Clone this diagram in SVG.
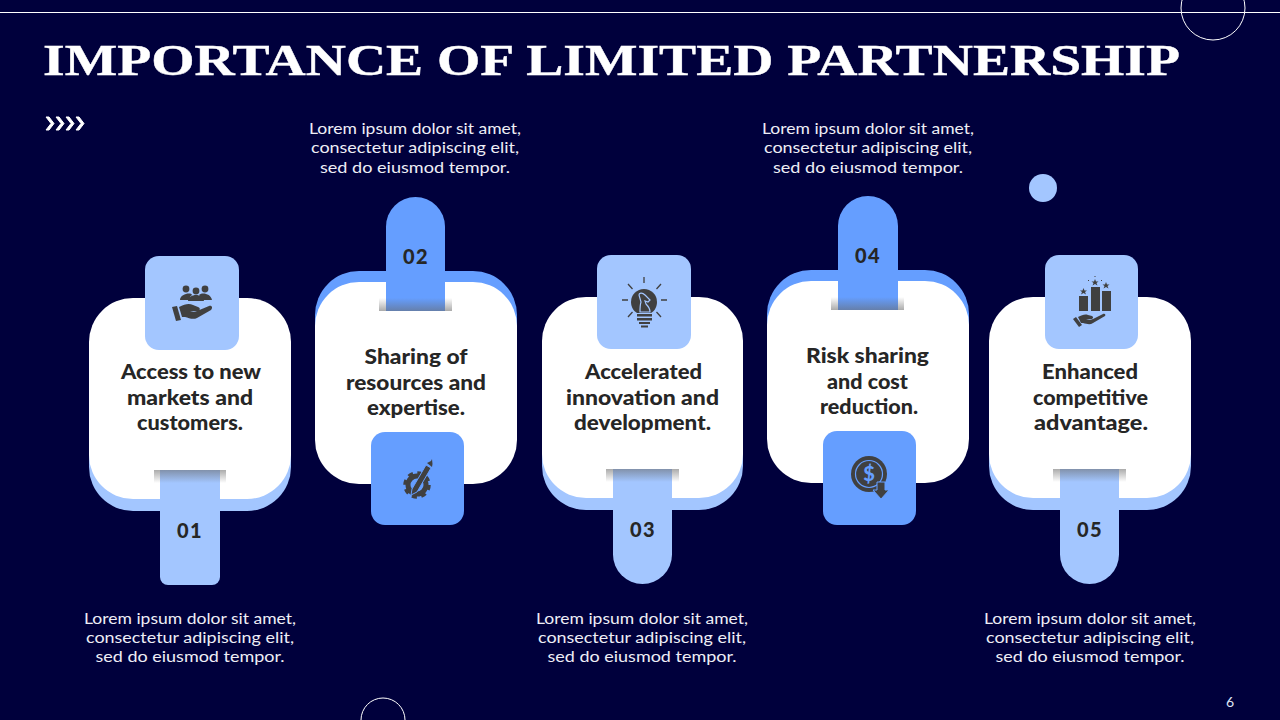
<svg xmlns="http://www.w3.org/2000/svg" width="1280" height="720" viewBox="0 0 1280 720">
<style>
.title{font-family:"Liberation Serif",serif;font-weight:700;font-size:45px;fill:#fff;stroke:#fff;stroke-width:.4}
.body{font-family:"Lato","Liberation Sans",sans-serif;font-weight:400;font-size:16px;fill:#eeeef6;text-anchor:middle}
.head{font-family:"Lato","Liberation Sans",sans-serif;font-weight:900;font-size:20px;fill:#262626;text-anchor:middle}
.num{font-family:"Lato","Liberation Sans",sans-serif;font-weight:900;font-size:20px;fill:#262626;text-anchor:middle;letter-spacing:1.500px}
.ic{fill:#404040}
.lt{fill:#a3c6ff}.bl{fill:#659eff}.wh{fill:#fff}
.ring{fill:none;stroke:#fff;stroke-width:1}
</style>
<defs>
<linearGradient id="sd" x1="0" y1="0" x2="0" y2="1"><stop offset="0" stop-color="#666" stop-opacity=".55"/><stop offset="1" stop-color="#666" stop-opacity="0"/></linearGradient>
<linearGradient id="su" x1="0" y1="1" x2="0" y2="0"><stop offset="0" stop-color="#666" stop-opacity=".55"/><stop offset="1" stop-color="#666" stop-opacity="0"/></linearGradient>
</defs>
<rect width="1280" height="720" fill="#00003c"/>
<g id="decor">
<rect x="0" y="12" width="1280" height="1" fill="#fff"/>
<circle class="ring" cx="1213" cy="8" r="32"/>
<circle class="ring" cx="383" cy="720" r="22"/>
<circle class="lt" cx="1043" cy="188" r="14"/>
<path d="M46 117l5 6.500-5 6.500h3l5-6.500-5-6.500zM56 117l5 6.500-5 6.500h3l5-6.500-5-6.500zM66 117l5 6.500-5 6.500h3l5-6.500-5-6.500zM76 117l5 6.500-5 6.500h3l5-6.500-5-6.500z" fill="#fff" stroke="#fff" stroke-width="1"/>
</g>
<text id="title" class="title" x="43" y="75" textLength="1137" lengthAdjust="spacingAndGlyphs">IMPORTANCE OF LIMITED PARTNERSHIP</text>
<text id="page" x="1230" y="707" font-family="Lato,sans-serif" font-size="14" fill="#dfe6f5" text-anchor="middle">6</text>

<g id="connectors"></g>

<g id="node1">
<rect class="lt" x="89" y="310" width="202" height="201" rx="44"/>
<rect class="wh" x="89" y="298" width="202" height="201" rx="44"/>
<path class="lt" d="M160 470h60v107a8 8 0 0 1-8 8h-44a8 8 0 0 1-8-8z"/>
<rect x="154" y="470" width="72" height="13" fill="url(#sd)"/>
<rect class="lt" x="145" y="256" width="94" height="94" rx="14"/>
<g class="ic"><circle cx="186" cy="289" r="3.400"/><circle cx="196" cy="291" r="3.400"/><circle cx="205" cy="289" r="3.400"/>
<path d="M180 300c0-6 11-8 12-5-2 1-3 3-3 5zM188 301c1-8 15-8 16 0zM199 295c2-3 12-2 13 5h-10c0-2-1-4-3-5z"/>
<path d="M172 307l5-1 4 14-5 1z"/><path d="M179 307c6-3 10-4 14-2l5 2c3 1 2 4-1 4h-7c3 1 5 1 7 0l12-5c3-1 4 2 2 4l-14 8c-4 2-8 0-12-1l-3 0z"/></g>
<text class="head" x="191" y="379" textLength="140" lengthAdjust="spacingAndGlyphs">Access to new</text><text class="head" x="190" y="405" textLength="126" lengthAdjust="spacingAndGlyphs">markets and</text><text class="head" x="190" y="430" textLength="106" lengthAdjust="spacingAndGlyphs">customers.</text>
<text class="num" x="190" y="538">01</text>
<text class="body" x="190" y="624" textLength="212" lengthAdjust="spacingAndGlyphs">Lorem ipsum dolor sit amet,</text><text class="body" x="190" y="643" textLength="208" lengthAdjust="spacingAndGlyphs">consectetur adipiscing elit,</text><text class="body" x="190" y="662" textLength="189" lengthAdjust="spacingAndGlyphs">sed do eiusmod tempor.</text>
</g>

<g id="node2">
<rect class="bl" x="315" y="271" width="202" height="201" rx="44"/>
<rect class="wh" x="315" y="282" width="202" height="202" rx="44"/>
<path class="bl" d="M386 311v-84.500a29.500 29.500 0 0 1 59 0v84.500z"/>
<rect x="379" y="298" width="73" height="13" fill="url(#su)"/>
<rect class="bl" x="371" y="432" width="93" height="93" rx="14"/>
<circle cx="417" cy="485" r="9" fill="none" stroke="#404040" stroke-width="5"/>
<circle cx="417" cy="485" r="12" fill="none" stroke="#404040" stroke-width="3.500" stroke-dasharray="5 4.420"/>
<path class="ic" d="M412 489l14-24 5 3-14 24-6 3z" stroke="#659eff" stroke-width="1"/>
<path class="ic" d="M427 463l4-2 1-2 .5 5-.5 3z"/>
<text class="head" x="416" y="364" textLength="103" lengthAdjust="spacingAndGlyphs">Sharing of</text><text class="head" x="416" y="390" textLength="140" lengthAdjust="spacingAndGlyphs">resources and</text><text class="head" x="416" y="415" textLength="98" lengthAdjust="spacingAndGlyphs">expertise.</text>
<text class="num" x="416" y="264">02</text>
<text class="body" x="415" y="134" textLength="212" lengthAdjust="spacingAndGlyphs">Lorem ipsum dolor sit amet,</text><text class="body" x="415" y="153" textLength="208" lengthAdjust="spacingAndGlyphs">consectetur adipiscing elit,</text><text class="body" x="415" y="173" textLength="190" lengthAdjust="spacingAndGlyphs">sed do eiusmod tempor.</text>
</g>

<g id="node3">
<rect class="lt" x="542" y="309" width="201" height="201" rx="44"/>
<rect class="wh" x="542" y="297" width="201" height="201" rx="44"/>
<path class="lt" d="M613 469h59v85.500a29.500 29.500 0 0 1-59 0z"/>
<rect x="606" y="469" width="73" height="13" fill="url(#sd)"/>
<rect class="lt" x="597" y="255" width="94" height="94" rx="14"/>
<path class="ic" d="M637 313c-4-2-6-7-6-11a13 13 0 0 1 26 0c0 4-2 9-6 11z"/>
<path d="M640 312h10c0-4-2-6-4-8l-1-3 3 1 2-2-5-5c-3-3-6-2-6 0l2 7c-1 3-1 6-1 10z" fill="none" stroke="#a3c6ff" stroke-width="1.200"/>
<g class="ic"><rect x="637" y="314" width="15" height="2.500"/><rect x="637" y="318" width="15" height="2.500"/><rect x="639" y="322" width="11" height="2"/><rect x="641" y="325.500" width="7" height="2"/></g>
<path d="M644 277v6M628 284l4.500 5M661 284l-4.500 5M622 300h6M667 300h-6M628 317l4.500-5M661 317l-4.500-5" stroke="#404040" stroke-width="1.300" fill="none"/>
<text class="head" x="643.500" y="379" textLength="117" lengthAdjust="spacingAndGlyphs">Accelerated</text><text class="head" x="642.500" y="405" textLength="153" lengthAdjust="spacingAndGlyphs">innovation and</text><text class="head" x="642.500" y="430" textLength="137" lengthAdjust="spacingAndGlyphs">development.</text>
<text class="num" x="643" y="537">03</text>
<text class="body" x="642" y="624" textLength="212" lengthAdjust="spacingAndGlyphs">Lorem ipsum dolor sit amet,</text><text class="body" x="642" y="643" textLength="208" lengthAdjust="spacingAndGlyphs">consectetur adipiscing elit,</text><text class="body" x="642" y="662" textLength="189" lengthAdjust="spacingAndGlyphs">sed do eiusmod tempor.</text>
</g>

<g id="node4">
<rect class="bl" x="767" y="270" width="202" height="201" rx="44"/>
<rect class="wh" x="767" y="281" width="202" height="202" rx="44"/>
<path class="bl" d="M838 310v-84a30 30 0 0 1 60 0v84z"/>
<rect x="831" y="297" width="73" height="13" fill="url(#su)"/>
<rect class="bl" x="823" y="431" width="93" height="94" rx="14"/>
<circle class="ic" cx="869" cy="474" r="18"/>
<circle cx="869" cy="474" r="13.500" fill="none" stroke="#659eff" stroke-width="1.200"/>
<text x="869" y="481" font-family="Lato,sans-serif" font-weight="900" font-size="20" fill="#659eff" text-anchor="middle">$</text>
<path class="ic" d="M877 482h8v8h4l-8 9-8-9h4z" stroke="#659eff" stroke-width="1"/>
<text class="head" x="867.500" y="363" textLength="123" lengthAdjust="spacingAndGlyphs">Risk sharing</text><text class="head" x="867.500" y="389" textLength="81" lengthAdjust="spacingAndGlyphs">and cost</text><text class="head" x="869" y="414" textLength="98" lengthAdjust="spacingAndGlyphs">reduction.</text>
<text class="num" x="868" y="263">04</text>
<text class="body" x="868" y="134" textLength="212" lengthAdjust="spacingAndGlyphs">Lorem ipsum dolor sit amet,</text><text class="body" x="868" y="153" textLength="208" lengthAdjust="spacingAndGlyphs">consectetur adipiscing elit,</text><text class="body" x="868" y="173" textLength="190" lengthAdjust="spacingAndGlyphs">sed do eiusmod tempor.</text>
</g>

<g id="node5">
<rect class="lt" x="989" y="309" width="202" height="201" rx="44"/>
<rect class="wh" x="989" y="297" width="202" height="201" rx="44"/>
<path class="lt" d="M1060 469h59v85.500a29.500 29.500 0 0 1-59 0z"/>
<rect x="1053" y="469" width="73" height="13" fill="url(#sd)"/>
<rect class="lt" x="1045" y="255" width="93" height="94" rx="14"/>
<g class="ic"><rect x="1079" y="296" width="9" height="15"/><rect x="1091" y="287" width="9" height="24"/><rect x="1102" y="291" width="9" height="20"/>
<path d="M1083.500 288l1 2.500 2.500 0-2 1.500 1 2.500-2.500-1.500-2.500 1.500 1-2.500-2-1.500 2.500 0zM1095 279l1 2.500 2.500 0-2 1.500 1 2.500-2.500-1.500-2.500 1.500 1-2.500-2-1.500 2.500 0zM1106 282l1 2.500 2.500 0-2 1.500 1 2.500-2.500-1.500-2.500 1.500 1-2.500-2-1.500 2.500 0z"/>
<path d="M1073 319l3-2 6 8-3 2z"/><path d="M1078 317c4-2 7-3 10-2l4 1c2 1 1 3-1 3h-5c3 1 5 1 7 0l10-5c2-1 3 1 2 2l-12 7c-3 2-6 1-10 0l-2 0z"/></g>
<path d="M1095 277v-1M1089 281l-1-1M1101 281l1-1" stroke="#404040" fill="none"/>
<text class="head" x="1090" y="379" textLength="96" lengthAdjust="spacingAndGlyphs">Enhanced</text><text class="head" x="1090.500" y="405" textLength="115" lengthAdjust="spacingAndGlyphs">competitive</text><text class="head" x="1091" y="430" textLength="114" lengthAdjust="spacingAndGlyphs">advantage.</text>
<text class="num" x="1090" y="537">05</text>
<text class="body" x="1090" y="624" textLength="212" lengthAdjust="spacingAndGlyphs">Lorem ipsum dolor sit amet,</text><text class="body" x="1090" y="643" textLength="208" lengthAdjust="spacingAndGlyphs">consectetur adipiscing elit,</text><text class="body" x="1090" y="662" textLength="189" lengthAdjust="spacingAndGlyphs">sed do eiusmod tempor.</text>
</g>
</svg>
